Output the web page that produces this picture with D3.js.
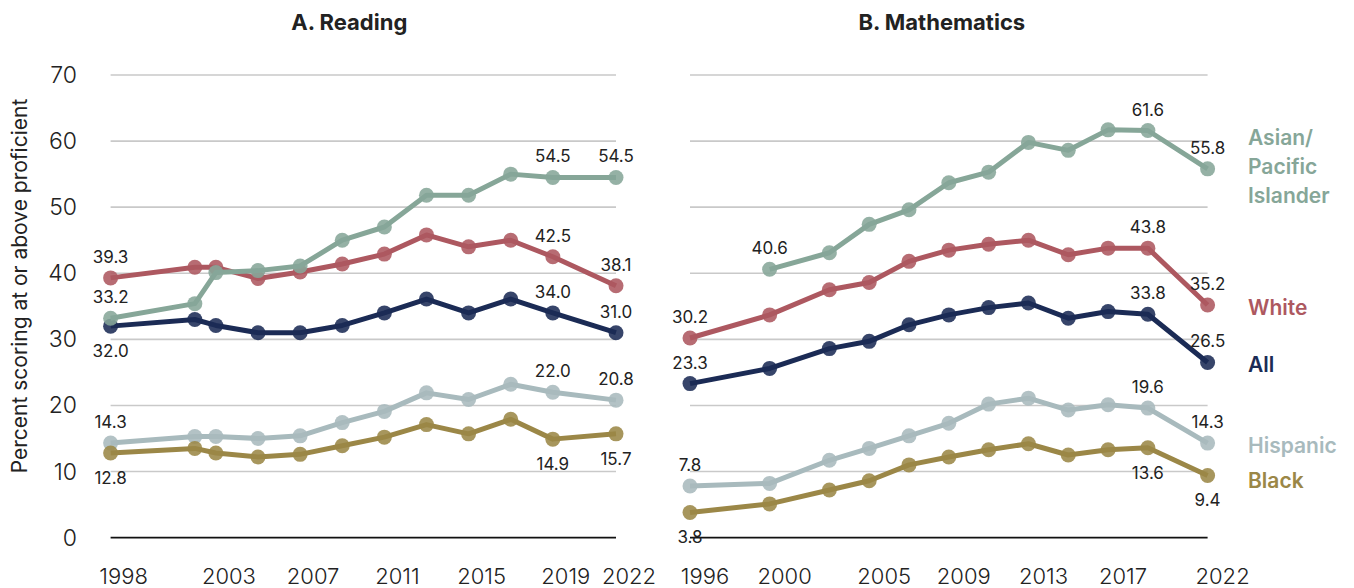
<!DOCTYPE html>
<html>
<head>
<meta charset="UTF-8">
<style>
    body { margin: 0; background: #fff; }
    svg text { font-family: Inter, "DejaVu Sans", sans-serif; }
</style>
</head>
<body>
<svg id="chart" width="1354" height="588"></svg>
<script src="https://d3js.org/d3.v7.min.js"></script>
<script>
    // ---- data ----
    const readingYears = [1998, 2002, 2003, 2005, 2007, 2009, 2011, 2013, 2015, 2017, 2019, 2022];
    const mathYears = [1996, 2000, 2003, 2005, 2007, 2009, 2011, 2013, 2015, 2017, 2019, 2022];
    const readingTicks = [1998, 2003, 2007, 2011, 2015, 2019, 2022];
    const mathTicks = [1996, 2000, 2005, 2009, 2013, 2017, 2022];
    const yTicks = [0, 10, 20, 30, 40, 50, 60, 70];

    const readingAll = [32.0, 33.0, 32.1, 31.0, 31.0, 32.1, 34.0, 36.1, 34.0, 36.1, 34.0, 31.0];
    const readingWhite = [39.3, 40.9, 40.9, 39.2, 40.2, 41.4, 42.9, 45.8, 44.0, 45.0, 42.5, 38.1];
    const readingAsian = [33.2, 35.4, 40.1, 40.4, 41.1, 45.0, 47.0, 51.8, 51.8, 55.0, 54.5, 54.5];
    const readingHispanic = [14.3, 15.3, 15.3, 15.0, 15.4, 17.4, 19.1, 21.9, 20.9, 23.2, 22.0, 20.8];
    const readingBlack = [12.8, 13.5, 12.8, 12.2, 12.6, 13.9, 15.2, 17.1, 15.7, 17.9, 14.9, 15.7];

    const mathAll = [23.3, 25.6, 28.6, 29.7, 32.2, 33.7, 34.8, 35.5, 33.2, 34.2, 33.8, 26.5];
    const mathWhite = [30.2, 33.7, 37.5, 38.6, 41.8, 43.5, 44.4, 45.0, 42.8, 43.8, 43.8, 35.2];
    const mathAsian = [null, 40.6, 43.1, 47.4, 49.6, 53.7, 55.3, 59.8, 58.6, 61.7, 61.6, 55.8];
    const mathHispanic = [7.8, 8.2, 11.7, 13.5, 15.4, 17.3, 20.2, 21.1, 19.3, 20.1, 19.6, 14.3];
    const mathBlack = [3.8, 5.1, 7.2, 8.6, 11.0, 12.2, 13.3, 14.2, 12.5, 13.3, 13.6, 9.4];

    const groupNames = ["All", "White", "Hispanic", "Black", "Asian/ Pacific Islander"];
    const colors = {
        "All": "#1b2b55",
        "White": "#ad5860",
        "Hispanic": "#a8babd",
        "Black": "#9b8747",
        "Asian/ Pacific Islander": "#86a698"
    };

    const svg = d3.select("#chart");
    const y = d3.scaleLinear().domain([0, 70]).range([537.6, 75]);

    const panels = [
        {
            title: "A. Reading", years: readingYears, ticks: readingTicks,
            x: d3.scaleLinear().domain([1998, 2022]).range([110.6, 616]),
            series: { "All": readingAll, "White": readingWhite, "Hispanic": readingHispanic, "Black": readingBlack, "Asian/ Pacific Islander": readingAsian },
            firstBelow: ["All", "Black"], legend: false, tickShift: 13, titleShift: -14
        },
        {
            title: "B. Mathematics", years: mathYears, ticks: mathTicks,
            x: d3.scaleLinear().domain([1996, 2022]).range([690, 1207.6]),
            series: { "All": mathAll, "White": mathWhite, "Hispanic": mathHispanic, "Black": mathBlack, "Asian/ Pacific Islander": mathAsian },
            firstBelow: ["Black"], legend: true, tickShift: 15, titleShift: -7
        }
    ];

    panels.forEach(p => {
        const g = svg.append("g");
        const [x0, x1] = p.x.range();

        // title
        g.append("text")
            .attr("x", (x0 + x1) / 2 + p.titleShift)
            .attr("y", 30)
            .attr("text-anchor", "middle")
            .style("font-size", "22px")
            .style("font-weight", 700)
            .style("fill", "#222")
            .text(p.title);

        // gridlines
        g.selectAll(".grid")
            .data(yTicks)
            .enter()
            .append("line")
            .attr("x1", x0).attr("x2", x1)
            .attr("y1", d => y(d)).attr("y2", d => y(d))
            .attr("stroke", d => d === 0 ? "#111" : "#c9c9c9")
            .attr("stroke-width", 1.6);

        // x tick labels
        g.selectAll(".xt")
            .data(p.ticks)
            .enter()
            .append("text")
            .attr("x", d => p.x(d) + p.tickShift)
            .attr("y", 584)
            .attr("text-anchor", "middle")
            .style("font-size", "22px")
            .style("font-weight", 300)
            .style("fill", "#222")
            .text(d => d);

        const line = d3.line()
            .defined(d => d.v !== null)
            .x(d => p.x(d.year))
            .y(d => y(d.v));

        groupNames.forEach(name => {
            const pts = p.years.map((yr, i) => ({ year: yr, v: p.series[name][i] }));
            const valid = pts.filter(d => d.v !== null);
            const c = colors[name];

            g.append("path")
                .datum(pts)
                .attr("fill", "none")
                .attr("stroke", c)
                .attr("stroke-width", 5)
                .attr("stroke-linejoin", "round")
                .attr("d", line);

            g.selectAll(null)
                .data(valid)
                .enter()
                .append("circle")
                .attr("cx", d => p.x(d.year))
                .attr("cy", d => y(d.v))
                .attr("r", 7.5)
                .attr("fill", c)
                .attr("fill-opacity", 0.88);

            // value labels: first point, 2019 and 2022
            const labelled = [valid[0], valid[valid.length - 2], valid[valid.length - 1]];
            g.selectAll(null)
                .data(labelled)
                .enter()
                .append("text")
                .attr("x", d => p.x(d.year))
                .attr("y", (d, i) => {
                    const below = name === "Black" || (i === 0 && p.firstBelow.includes(name));
                    return below ? y(d.v) + 31 : y(d.v) - 15;
                })
                .attr("text-anchor", "middle")
                .style("font-size", "17px")
                .style("fill", "#222")
                .text(d => d.v.toFixed(1));

            if (p.legend) {
                const last = valid[valid.length - 1];
                const lines = name.split(" ");
                const t = g.append("text")
                    .attr("x", 1248)
                    .attr("y", y(last.v) + 10 - (lines.length - 1) / 2 * 29 - (lines.length > 1 ? 5 : 0) + (name === "Black" ? 3 : 0))
                    .style("font-size", "21px")
                    .style("font-weight", 600)
                    .style("fill", c);
                lines.forEach((l, i) => {
                    t.append("tspan")
                        .attr("x", 1248)
                        .attr("dy", i === 0 ? 0 : 29)
                        .text(l);
                });
            }
        });
    });

    // y axis labels (left panel only)
    svg.selectAll(".yt")
        .data(yTicks)
        .enter()
        .append("text")
        .attr("x", 77)
        .attr("y", d => y(d) + 8)
        .attr("text-anchor", "end")
        .style("font-size", "23px")
        .style("font-weight", 300)
        .style("fill", "#222")
        .text(d => d);

    svg.append("text")
        .attr("transform", "translate(27," + 286 + ") rotate(-90)")
        .attr("text-anchor", "middle")
        .style("font-size", "21px")
        .style("fill", "#222")
        .text("Percent scoring at or above proficient");
</script>
</body>
</html>
